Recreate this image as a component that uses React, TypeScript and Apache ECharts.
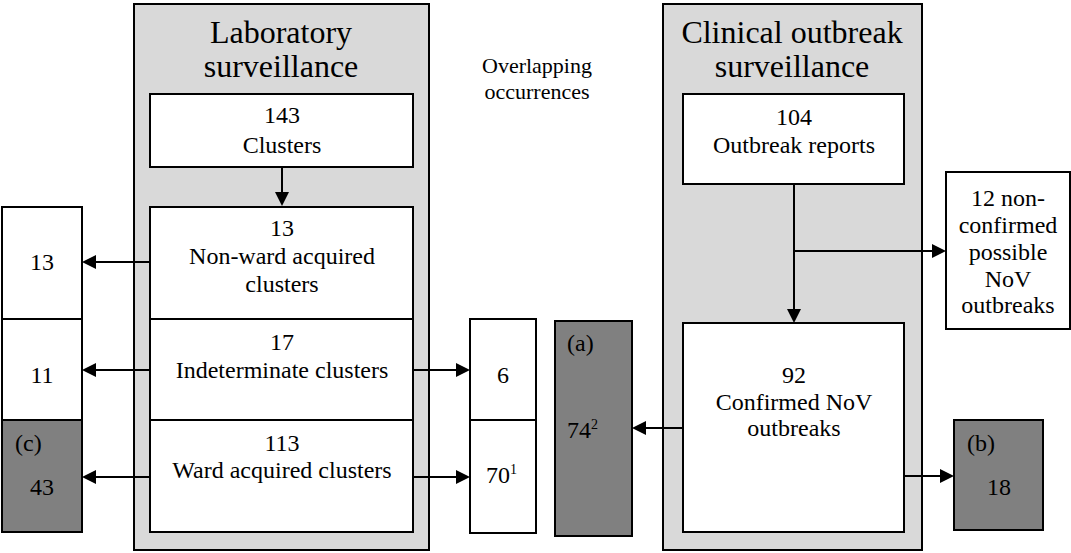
import React, { useEffect, useRef } from "react";
import * as echarts from "echarts";

// ---- content ----
const labTitle = "Laboratory\nsurveillance";
const clinicalTitle = "Clinical outbreak\nsurveillance";
const overlapTitle = "Overlapping\noccurrences";
const labCounts = [143, 13, 17, 113];
const labLabels = ["Clusters", "Non-ward acquired\nclusters", "Indeterminate clusters", "Ward acquired clusters"];
const leftCounts = [13, 11];
const midCounts = [6, 70];
const midNotes = ["", "1"];
const clinicalCounts = [104, 92];
const clinicalLabels = ["Outbreak reports", "Confirmed NoV\noutbreaks"];
const nonConfirmedCount = 12;
const nonConfirmedLabel = "non-\nconfirmed\npossible\nNoV\noutbreaks";
const groupTags = ["(a)", "(b)", "(c)"];
const groupCounts = [74, 18, 43];
const groupNotes = ["2", "", ""];

const FONT = "Liberation Serif";
const GRAY_BG = "#d9d9d9";
const DARK = "#808080";
const FS = 24;

function rect(x: number, y: number, w: number, h: number, fill: string, lw = 2) {
  return { type: "rect", shape: { x, y, width: w, height: h }, style: { fill, stroke: "#000", lineWidth: lw } };
}
function text(t: string, x: number, y: number, size: number, lh: number, align = "center", vAlign = "middle") {
  return {
    type: "text",
    x,
    y,
    style: { text: t, fill: "#000", fontSize: size, fontFamily: FONT, align, verticalAlign: vAlign, lineHeight: lh },
    z: 10,
  };
}
function arrow(x1: number, y1: number, x2: number, y2: number) {
  const L = 14, W = 7;
  const dx = x2 - x1, dy = y2 - y1;
  const len = Math.sqrt(dx * dx + dy * dy);
  const ux = dx / len, uy = dy / len;
  const bx = x2 - ux * L, by = y2 - uy * L;
  return [
    { type: "line", shape: { x1, y1, x2: bx, y2: by }, style: { stroke: "#000", lineWidth: 2 }, z: 5 },
    {
      type: "polygon",
      shape: { points: [[x2, y2], [bx - uy * W, by + ux * W], [bx + uy * W, by - ux * W]] },
      style: { fill: "#000" },
      z: 5,
    },
  ];
}
function line(x1: number, y1: number, x2: number, y2: number) {
  return { type: "line", shape: { x1, y1, x2, y2 }, style: { stroke: "#000", lineWidth: 2 }, z: 5 };
}

export default function App() {
  const ref = useRef<HTMLDivElement>(null);
  useEffect(() => {
    if (!ref.current) return;
    const chart = echarts.init(ref.current, null, { renderer: "svg" });
    const els: any[] = [];
    // outer panels
    els.push(rect(134, 4, 295, 546, GRAY_BG));
    els.push(rect(663, 4, 259, 546, GRAY_BG));
    els.push(text(labTitle, 281, 49, 32, 34));
    els.push(text(clinicalTitle, 792, 49, 32, 34));
    els.push(text(overlapTitle, 537, 78, 22, 26));

    // lab boxes
    const labBoxes = [
      [150, 94, 263, 73],
      [150, 207, 263, 112],
      [150, 319, 263, 101],
      [150, 420, 263, 112],
    ];
    const labTextTop = [100, 214, 328, 429.5];
    const labLH = [30, 28, 28, 27];
    labBoxes.forEach((b, i) => {
      els.push(rect(b[0], b[1], b[2], b[3], "#fff"));
      els.push(text(`${labCounts[i]}\n${labLabels[i]}`, 282, labTextTop[i], FS, labLH[i], "center", "top"));
    });
    els.push(...arrow(282, 167, 282, 206));

    // left boxes
    els.push(rect(2, 207, 80, 112, "#fff"));
    els.push(rect(2, 319, 80, 101, "#fff"));
    els.push(rect(2, 420, 80, 112, DARK));
    els.push(text(String(leftCounts[0]), 42, 262, FS, 26));
    els.push(text(String(leftCounts[1]), 42, 375, FS, 26));
    els.push(text(groupTags[2], 15, 443, FS, 26, "left"));
    els.push(text(String(groupCounts[2]), 42, 487, FS, 26));
    els.push(...arrow(150, 262, 82, 262));
    els.push(...arrow(150, 370, 82, 370));
    els.push(...arrow(150, 477, 82, 477));

    // middle boxes
    els.push(rect(470, 319, 66, 101, "#fff"));
    els.push(rect(470, 420, 66, 113, "#fff"));
    els.push(text(String(midCounts[0]), 503, 375, FS, 26));
    els.push(text(String(midCounts[1]), 510, 475, FS, 26, "right"));
    els.push(text(midNotes[1], 510, 469, 14, 14, "left"));
    els.push(...arrow(413, 370, 470, 370));
    els.push(...arrow(413, 477, 470, 477));

    // (a) box
    els.push(rect(555, 321, 77, 215, DARK));
    els.push(text(groupTags[0], 567, 343, FS, 26, "left"));
    els.push(text(String(groupCounts[0]), 567, 430, FS, 26, "left"));
    els.push(text(groupNotes[0], 591, 424, 14, 14, "left"));
    els.push(...arrow(683, 428, 632, 428));

    // clinical boxes
    els.push(rect(683, 94, 221, 90, "#fff"));
    els.push(text(`${clinicalCounts[0]}\n${clinicalLabels[0]}`, 794, 103, FS, 28, "center", "top"));
    els.push(rect(683, 323, 221, 209, "#fff"));
    els.push(text(`${clinicalCounts[1]}\n${clinicalLabels[1]}`, 794, 362, FS, 26.5, "center", "top"));
    els.push(line(794, 184, 794, 252));
    els.push(...arrow(794, 250, 794, 323));
    els.push(...arrow(794, 251, 946, 251));

    // non-confirmed box
    els.push(rect(946, 172, 124, 157, "#fff"));
    els.push(text(`${nonConfirmedCount} ${nonConfirmedLabel}`, 1008, 185, FS, 26.75, "center", "top"));

    // (b) box
    els.push(rect(954, 420, 89, 110, DARK));
    els.push(text(groupTags[1], 967, 443, FS, 26, "left"));
    els.push(text(String(groupCounts[1]), 999, 487, FS, 26));
    els.push(...arrow(904, 476, 954, 476));

    chart.setOption({ animation: false, graphic: { elements: els } });
    return () => chart.dispose();
  }, []);
  return <div ref={ref} style={{ position: "fixed", left: 0, top: 0, width: 1071, height: 553, background: "#fff" }} />;
}
